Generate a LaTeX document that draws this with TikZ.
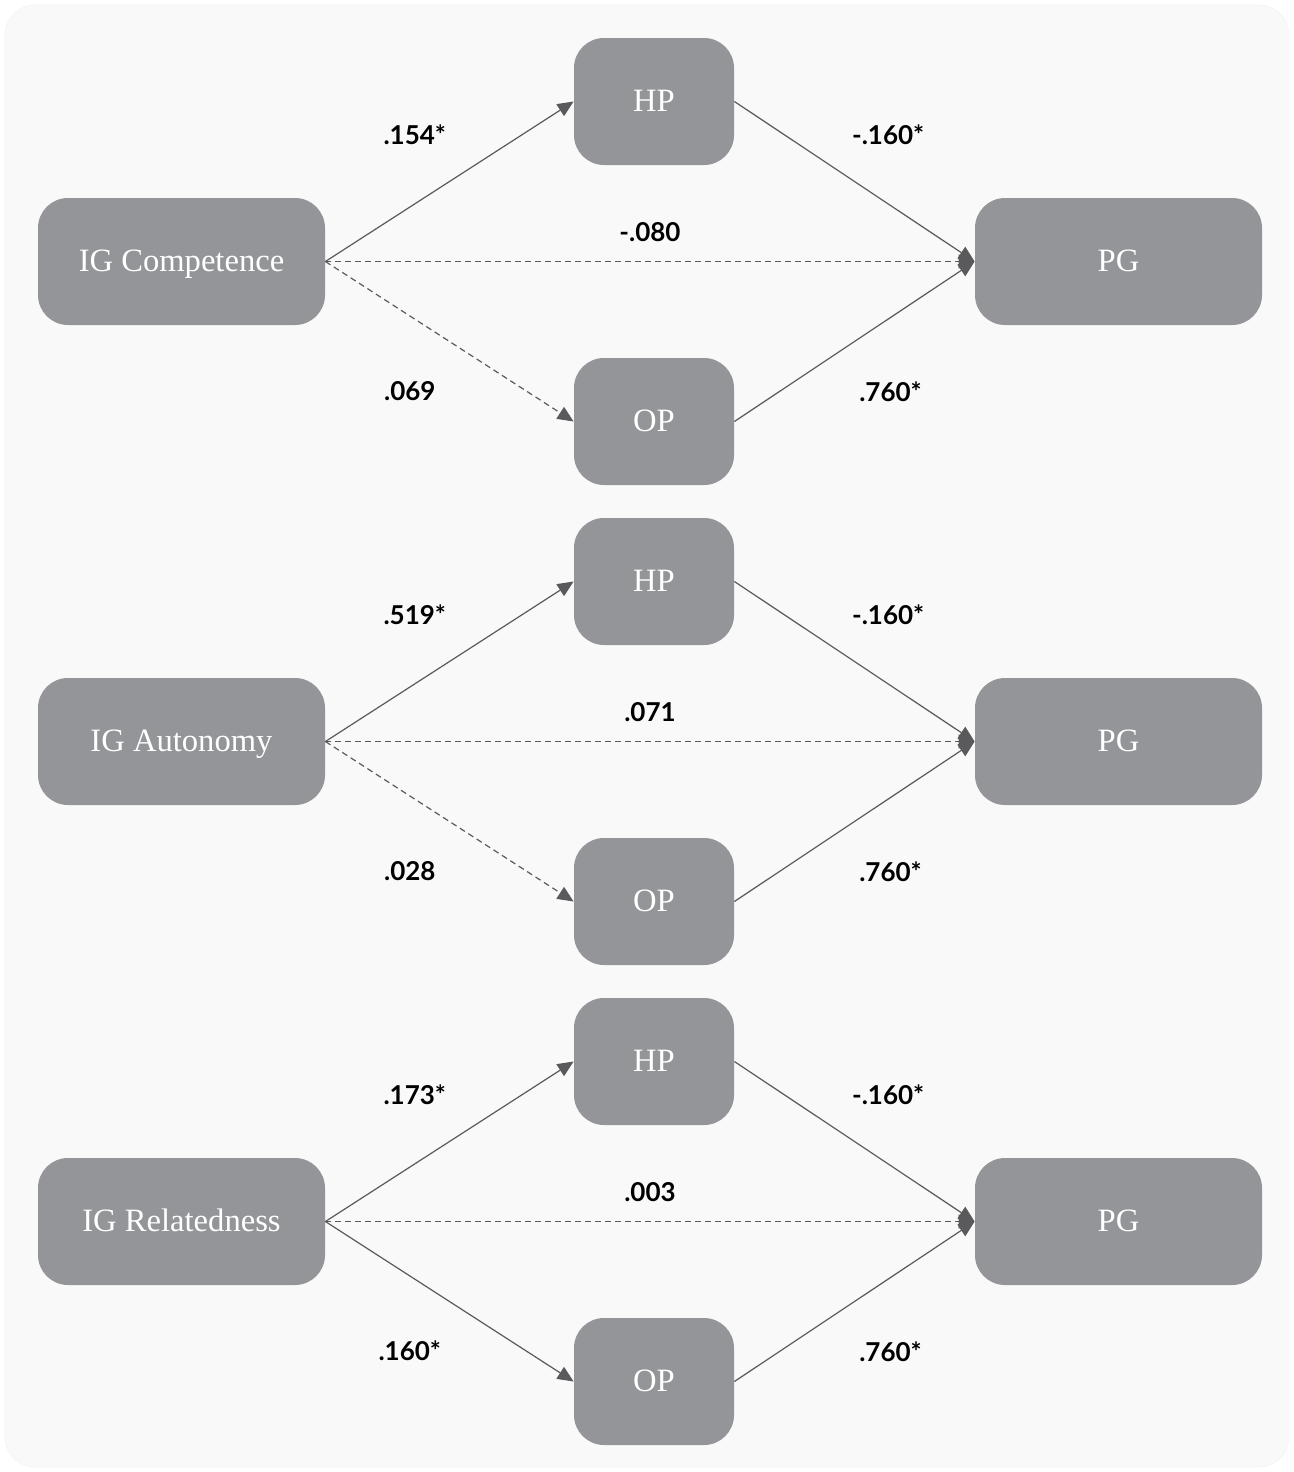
\documentclass[tikz,border=0pt]{standalone}
\usepackage{fontspec}
\setmainfont{Liberation Serif}
\newfontfamily\lblfont{Lato}
\usetikzlibrary{arrows.meta}

\definecolor{boxgray}{HTML}{939598}
\definecolor{linegray}{HTML}{5A5A5C}
\definecolor{panelgray}{HTML}{F9F9F9}

\tikzset{
  var/.style    = {rectangle, rounded corners=15pt, fill=boxgray, text=white,
                   minimum width=143.5pt, minimum height=63.5pt,
                   text height=1em, text depth=0pt,
                   font=\fontsize{16.3}{18}\selectfont},
  mid/.style    = {var, minimum width=80pt},
  coef/.style   = {font=\lblfont\bfseries\fontsize{13}{15}\selectfont, text=black},
  sig/.style    = {-{Triangle[length=8pt,width=7pt]}, draw=linegray, line width=0.6pt},
  nonsig/.style = {sig, dash pattern=on 3pt off 2pt}
}

\begin{document}
\begin{tikzpicture}[x=0.5pt, y=-0.5pt]
				\useasboundingbox (0,0) rectangle (1294,1472);
				\draw[fill=panelgray, draw=gray!8, rounded corners=15pt] (5,5) rectangle (1289,1467);
				
				% competence
				\node[var] (igc) at (181.5,261.5)  {IG Competence};
				\node[mid] (hpc) at (654,101.5)    {HP};
				\node[mid] (opc) at (654,421.5)    {OP};
				\node[var] (pgc) at (1118.5,261.5) {PG};
				
				% autonomy
				\node[var] (iga) at (181.5,741.5)  {IG Autonomy};
				\node[mid] (hpa) at (654,581.5)    {HP};
				\node[mid] (opa) at (654,901.5)    {OP};
				\node[var] (pga) at (1118.5,741.5) {PG};
				
				% relatedness
				\node[var] (igr) at (181.5,1221.5)  {IG Relatedness};
				\node[mid] (hpr) at (654,1061.5)    {HP};
				\node[mid] (opr) at (654,1381.5)    {OP};
				\node[var] (pgr) at (1118.5,1221.5) {PG};
				
				\path
				(igc.east) edge[sig]    node[coef, pos=.36, yshift=34.5pt]  {.154*}  (hpc.west)
				(hpc.east) edge[sig]    node[coef, pos=.64, yshift=34.5pt]  {-.160*} (pgc.west)
				(igc.east) edge[nonsig] node[coef, pos=.5, yshift=14.5pt]   {-.080}  (pgc.west)
				(igc.east) edge[nonsig] node[coef, pos=.34, yshift=-37.5pt] {.069}   (opc.west)
				(opc.east) edge[sig]    node[coef, pos=.65, yshift=-37pt]   {.760*}  (pgc.west)
				
				(iga.east) edge[sig]    node[coef, pos=.36, yshift=34.5pt]  {.519*}  (hpa.west)
				(hpa.east) edge[sig]    node[coef, pos=.64, yshift=34.5pt]  {-.160*} (pga.west)
				(iga.east) edge[nonsig] node[coef, pos=.5, yshift=14.5pt]   {.071}   (pga.west)
				(iga.east) edge[nonsig] node[coef, pos=.34, yshift=-37.5pt] {.028}   (opa.west)
				(opa.east) edge[sig]    node[coef, pos=.65, yshift=-37pt]   {.760*}  (pga.west)
				
				(igr.east) edge[sig]    node[coef, pos=.36, yshift=34.5pt]  {.173*}  (hpr.west)
				(hpr.east) edge[sig]    node[coef, pos=.64, yshift=34.5pt]  {-.160*} (pgr.west)
				(igr.east) edge[nonsig] node[coef, pos=.5, yshift=14.5pt]   {.003}   (pgr.west)
				(igr.east) edge[sig]    node[coef, pos=.34, yshift=-37.5pt] {.160*}  (opr.west)
				(opr.east) edge[sig]    node[coef, pos=.65, yshift=-37pt]   {.760*}  (pgr.west)
				;
				
			\end{tikzpicture}
\end{document}
